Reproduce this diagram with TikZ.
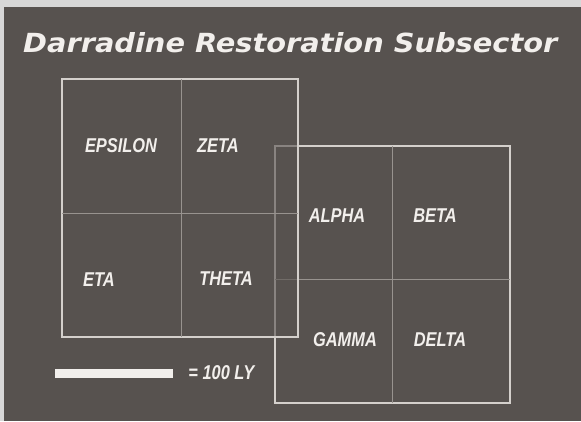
\documentclass[tikz,border=0pt]{standalone}
\usepackage{fontspec}
\setmainfont{Liberation Sans}
\newfontfamily\titlefont{DejaVu Sans}
\usepackage{graphicx}
\definecolor{bg}{HTML}{57524F}
\definecolor{frame}{HTML}{D7D7D7}
\definecolor{edge}{HTML}{D4D0CC}
\definecolor{divider}{HTML}{98938F}
\definecolor{ink}{HTML}{F2EFEC}
\newcommand{\nar}[1]{\scalebox{0.82}[1]{#1}}
\tikzset{
  sector/.style={draw=edge, line width=2pt, inner sep=0pt, outer sep=0pt},
  divline/.style={draw=divider, line width=1pt},
  lbl/.style={text=ink, font=\bfseries\itshape\fontsize{20}{20}\selectfont, inner sep=0pt},
}
\begin{document}
\begin{tikzpicture}[x=1pt, y=-1pt]
  % canvas
  \fill[frame] (0,0) rectangle (581,421);
  \fill[bg] (4,7) rectangle (581,421);
  \useasboundingbox (0,0) rectangle (581,421);

  % title
  \node[anchor=base west, inner sep=0pt, text=ink] (title) at (23,52)
    {\resizebox{534pt}{20pt}{\titlefont\bfseries\itshape Darradine Restoration Subsector}};

  % right sector group (drawn first, beneath)
  \node[sector, minimum width=235pt, minimum height=257pt] (R) at (392.5,274.5) {};
  \draw[divline] (R.north) -- (R.south);
  \draw[divline] ([yshift=-4.5pt]R.west) -- ([yshift=-4.5pt]R.east);

  % left sector group (on top, translucent fill)
  \node[sector, fill=bg, fill opacity=0.6, minimum width=236pt, minimum height=258pt] (L) at (180,208) {};
  \draw[divline] ([xshift=1pt]L.north) -- ([xshift=1pt]L.south);
  \draw[divline] ([yshift=-5pt]L.west) -- ([yshift=-5pt]L.east);

  % labels
  \node[lbl] (epsilon) at (121,146) {\nar{EPSILON}};
  \node[lbl] (zeta)    at (218,146) {\nar{ZETA}};
  \node[lbl] (eta)     at (99,280)  {\nar{ETA}};
  \node[lbl] (theta)   at (226,279) {\nar{THETA}};
  \node[lbl] (alpha)   at (337,216) {\nar{ALPHA}};
  \node[lbl] (beta)    at (435,216) {\nar{BETA}};
  \node[lbl] (gamma)   at (345,340) {\nar{GAMMA}};
  \node[lbl] (delta)   at (440,340) {\nar{DELTA}};

  % scale bar
  \node[fill=ink, inner sep=0pt, minimum width=118pt, minimum height=9pt] (bar) at (114,373) {};
  \node[lbl, anchor=west] (scale) at ([xshift=15pt]bar.east) {\nar{= 100 LY}};
\end{tikzpicture}
\end{document}
